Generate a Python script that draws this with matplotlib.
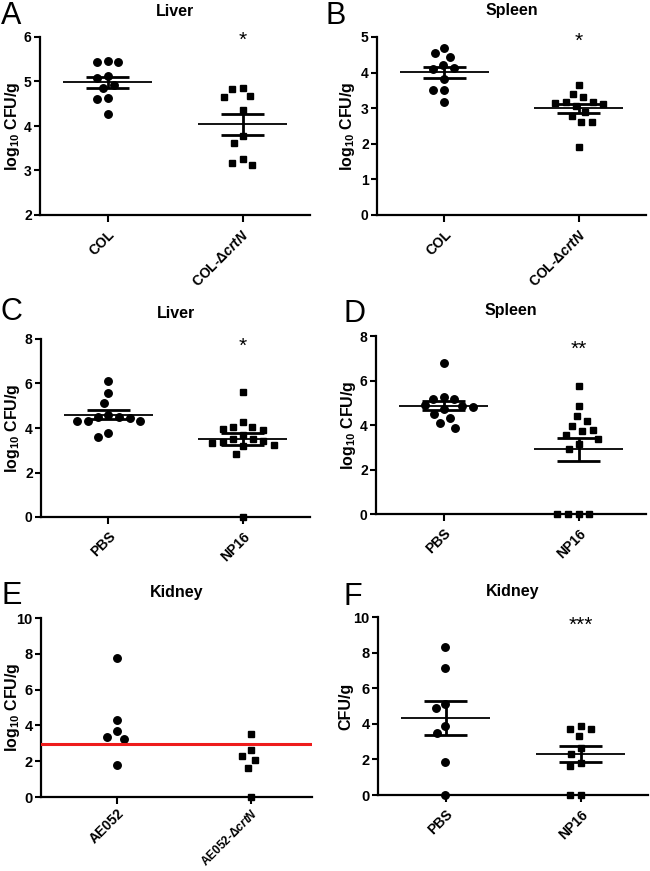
import numpy as np
import matplotlib
matplotlib.use("Agg")
import matplotlib.pyplot as plt

plt.rcParams['font.family'] = ['Liberation Sans', 'DejaVu Sans']
plt.rcParams['font.weight'] = 'bold'
plt.rcParams['mathtext.fontset'] = 'custom'
plt.rcParams['mathtext.rm'] = 'Liberation Sans:bold'
plt.rcParams['mathtext.it'] = 'Liberation Sans:italic'
plt.rcParams['mathtext.default'] = 'rm'

# values (log10 CFU/g)
liver_a_col = [5.47, 5.44, 5.44, 5.12, 5.07, 4.92, 4.86, 4.64, 4.61, 4.28]
liver_a_crtn = [4.86, 4.84, 4.68, 4.66, 4.37, 3.78, 3.62, 3.25, 3.17, 3.13]
spleen_b_col = [4.69, 4.55, 4.44, 4.21, 4.13, 4.10, 3.81, 3.50, 3.50, 3.18]
spleen_b_crtn = [3.66, 3.41, 3.31, 3.18, 3.18, 3.16, 3.11, 3.07, 2.90, 2.79, 2.62, 2.62, 1.90]
liver_c_pbs = [6.09, 5.57, 5.12, 4.58, 4.51, 4.50, 4.45, 4.33, 4.33, 4.33, 3.78, 3.59]
liver_c_np16 = [5.64, 4.29, 4.06, 4.06, 3.94, 3.91, 3.69, 3.52, 3.50, 3.40, 3.35, 3.34,
                3.25, 3.20, 2.81, 0.0]
spleen_d_pbs = [6.79, 5.26, 5.19, 5.19, 4.88, 4.87, 4.82, 4.70, 4.50, 4.31, 4.11, 3.88]
spleen_d_np16 = [5.77, 4.87, 4.39, 4.17, 3.95, 3.78, 3.72, 3.56, 3.35, 3.13, 2.90,
                 0.0, 0.0, 0.0, 0.0]
kidney_e_ae052 = [7.78, 4.28, 3.66, 3.35, 3.24, 1.77]
kidney_e_crtn = [3.50, 2.61, 2.29, 2.05, 1.62, 0.0]
kidney_e_cutoff = 2.95
kidney_f_pbs = [8.29, 7.13, 5.12, 4.88, 3.85, 3.51, 1.87, 0.0]
kidney_f_np16 = [3.90, 3.73, 3.73, 3.30, 2.63, 2.30, 1.80, 1.65, 0.0, 0.0]

lab_col = ['COL', 'COL-Δ$\\mathit{crtN}$']
lab_pbs = ['PBS', 'NP16']
lab_ae = ['AE052', 'AE052-Δ$\\mathit{crtN}$']
ylab_log = 'log$_{10}$ CFU/g'

W, H = 650, 871
fig = plt.figure(figsize=(W / 100, H / 100), dpi=100)


def box(l, t, r, b):
    return [l / W, (H - b) / H, (r - l) / W, (b - t) / H]


def swarm(ax, x0, vals, d=10.8):
    # simple beeswarm in pixel space
    order = np.argsort(vals)[::-1]
    pts = []
    xs = np.zeros(len(vals))
    x0p, _ = ax.transData.transform((x0, 0))
    for i in order:
        _, yp = ax.transData.transform((x0, vals[i]))
        bad = []
        for (px, py) in pts:
            dy = abs(py - yp)
            if dy < d:
                w = np.sqrt(d * d - dy * dy)
                bad.append((px - w, px + w))
        cands = [0.0]
        for lo, hi in bad:
            cands += [lo, hi]
        cands = sorted(cands, key=lambda c: (abs(c), c))
        for c in cands:
            if all(not (lo + 1e-6 < c < hi - 1e-6) for lo, hi in bad):
                break
        pts.append((c, yp))
        xd, _ = ax.transData.inverted().transform((x0p + c, yp))
        xs[i] = xd
    return xs


def panel(rect, letter, lpos, title, ylim, yticks, groups, labels, ylabel, ylx,
          stars, star_y, sem=True, cutoff=None, xlim=(-0.5, 1.5), fs=10, xfs=(10, 10), xpad=4):
    ax = fig.add_axes(box(*rect))
    ax.set_xlim(*xlim)
    ax.set_ylim(*ylim)
    for s in ['top', 'right']:
        ax.spines[s].set_visible(False)
    for s in ['left', 'bottom']:
        ax.spines[s].set_linewidth(1.6)
    ax.set_yticks(yticks)
    ax.set_xticks([0, 1])
    tl = ax.set_xticklabels(labels, rotation=45, ha='right', rotation_mode='anchor',
                            fontweight='bold')
    for t, f in zip(tl, xfs):
        t.set_fontsize(f)
    ax.tick_params(axis='y', length=4, width=1.5, labelsize=fs, pad=2)
    ax.tick_params(axis='x', length=5, width=1.5, pad=xpad)
    ax.set_ylabel(ylabel, fontsize=11.5, fontweight='bold')
    ax.yaxis.set_label_coords(ylx / (rect[2] - rect[0]), 0.5)

    for k, vals in enumerate(groups):
        xs = swarm(ax, k, vals)
        ax.plot(xs, vals, 'o' if k == 0 else 's', color='black', ms=5.4 if k == 0 else 5.0,
                clip_on=False, zorder=4)
        if sem:
            v = np.array(vals)
            m = v.mean()
            e = v.std(ddof=1) / np.sqrt(len(v))
            ax.hlines(m, k - 0.33, k + 0.33, color='black', lw=1.3, zorder=5)
            ax.hlines([m - e, m + e], k - 0.16, k + 0.16, color='black', lw=2.0, zorder=5)
            ax.vlines(k, m - e, m + e, color='black', lw=2.0, zorder=5)
    if cutoff is not None:
        ax.axhline(cutoff, color='#ee1c1c', lw=2.2, zorder=6)
    if stars:
        ax.text(1, star_y, stars, ha='center', va='center', fontsize=15,
                fontweight='normal')
    cx = (rect[0] + rect[2]) / 2
    fig.text(cx / W, 1 - (rect[1] - 26) / H, title, ha='center', va='center',
             fontsize=11.5, fontweight='bold')
    fig.text(lpos[0] / W, 1 - lpos[1] / H, letter, ha='left', va='top',
             fontsize=22, fontweight='normal')
    return ax


panel((40, 37, 310, 215), 'A', (1, 1), 'Liver', (2, 6), [2, 3, 4, 5, 6],
      [liver_a_col, liver_a_crtn], lab_col, ylab_log, -18, '*', 5.93)
panel((377, 37, 646, 215), 'B', (325, 1), 'Spleen', (0, 5), [0, 1, 2, 3, 4, 5],
      [spleen_b_col, spleen_b_crtn], lab_col, ylab_log, -20, '*', 4.88)
panel((41, 339, 310, 517), 'C', (1, 297), 'Liver', (0, 8), [0, 2, 4, 6, 8],
      [liver_c_pbs, liver_c_np16], lab_pbs, ylab_log, -19, '*', 7.65)
panel((376, 336, 646, 514), 'D', (343, 299), 'Spleen', (0, 8), [0, 2, 4, 6, 8],
      [spleen_d_pbs, spleen_d_np16], lab_pbs, ylab_log, -18, '**', 7.38)
panel((41, 618, 312, 797), 'E', (1, 581), 'Kidney', (0, 10), [0, 2, 4, 6, 8, 10],
      [kidney_e_ae052, kidney_e_crtn], lab_ae, ylab_log, -19, None, 0,
      sem=False, cutoff=kidney_e_cutoff, xlim=(-0.56, 1.45), fs=10.5, xfs=(10, 8.6), xpad=2)
panel((378, 617, 648, 795), 'F', (343, 582), 'Kidney', (0, 10), [0, 2, 4, 6, 8, 10],
      [kidney_f_pbs, kidney_f_np16], lab_pbs, 'CFU/g', -25, '***', 9.55, fs=10.5)

fig.savefig('out.png', dpi=100)
